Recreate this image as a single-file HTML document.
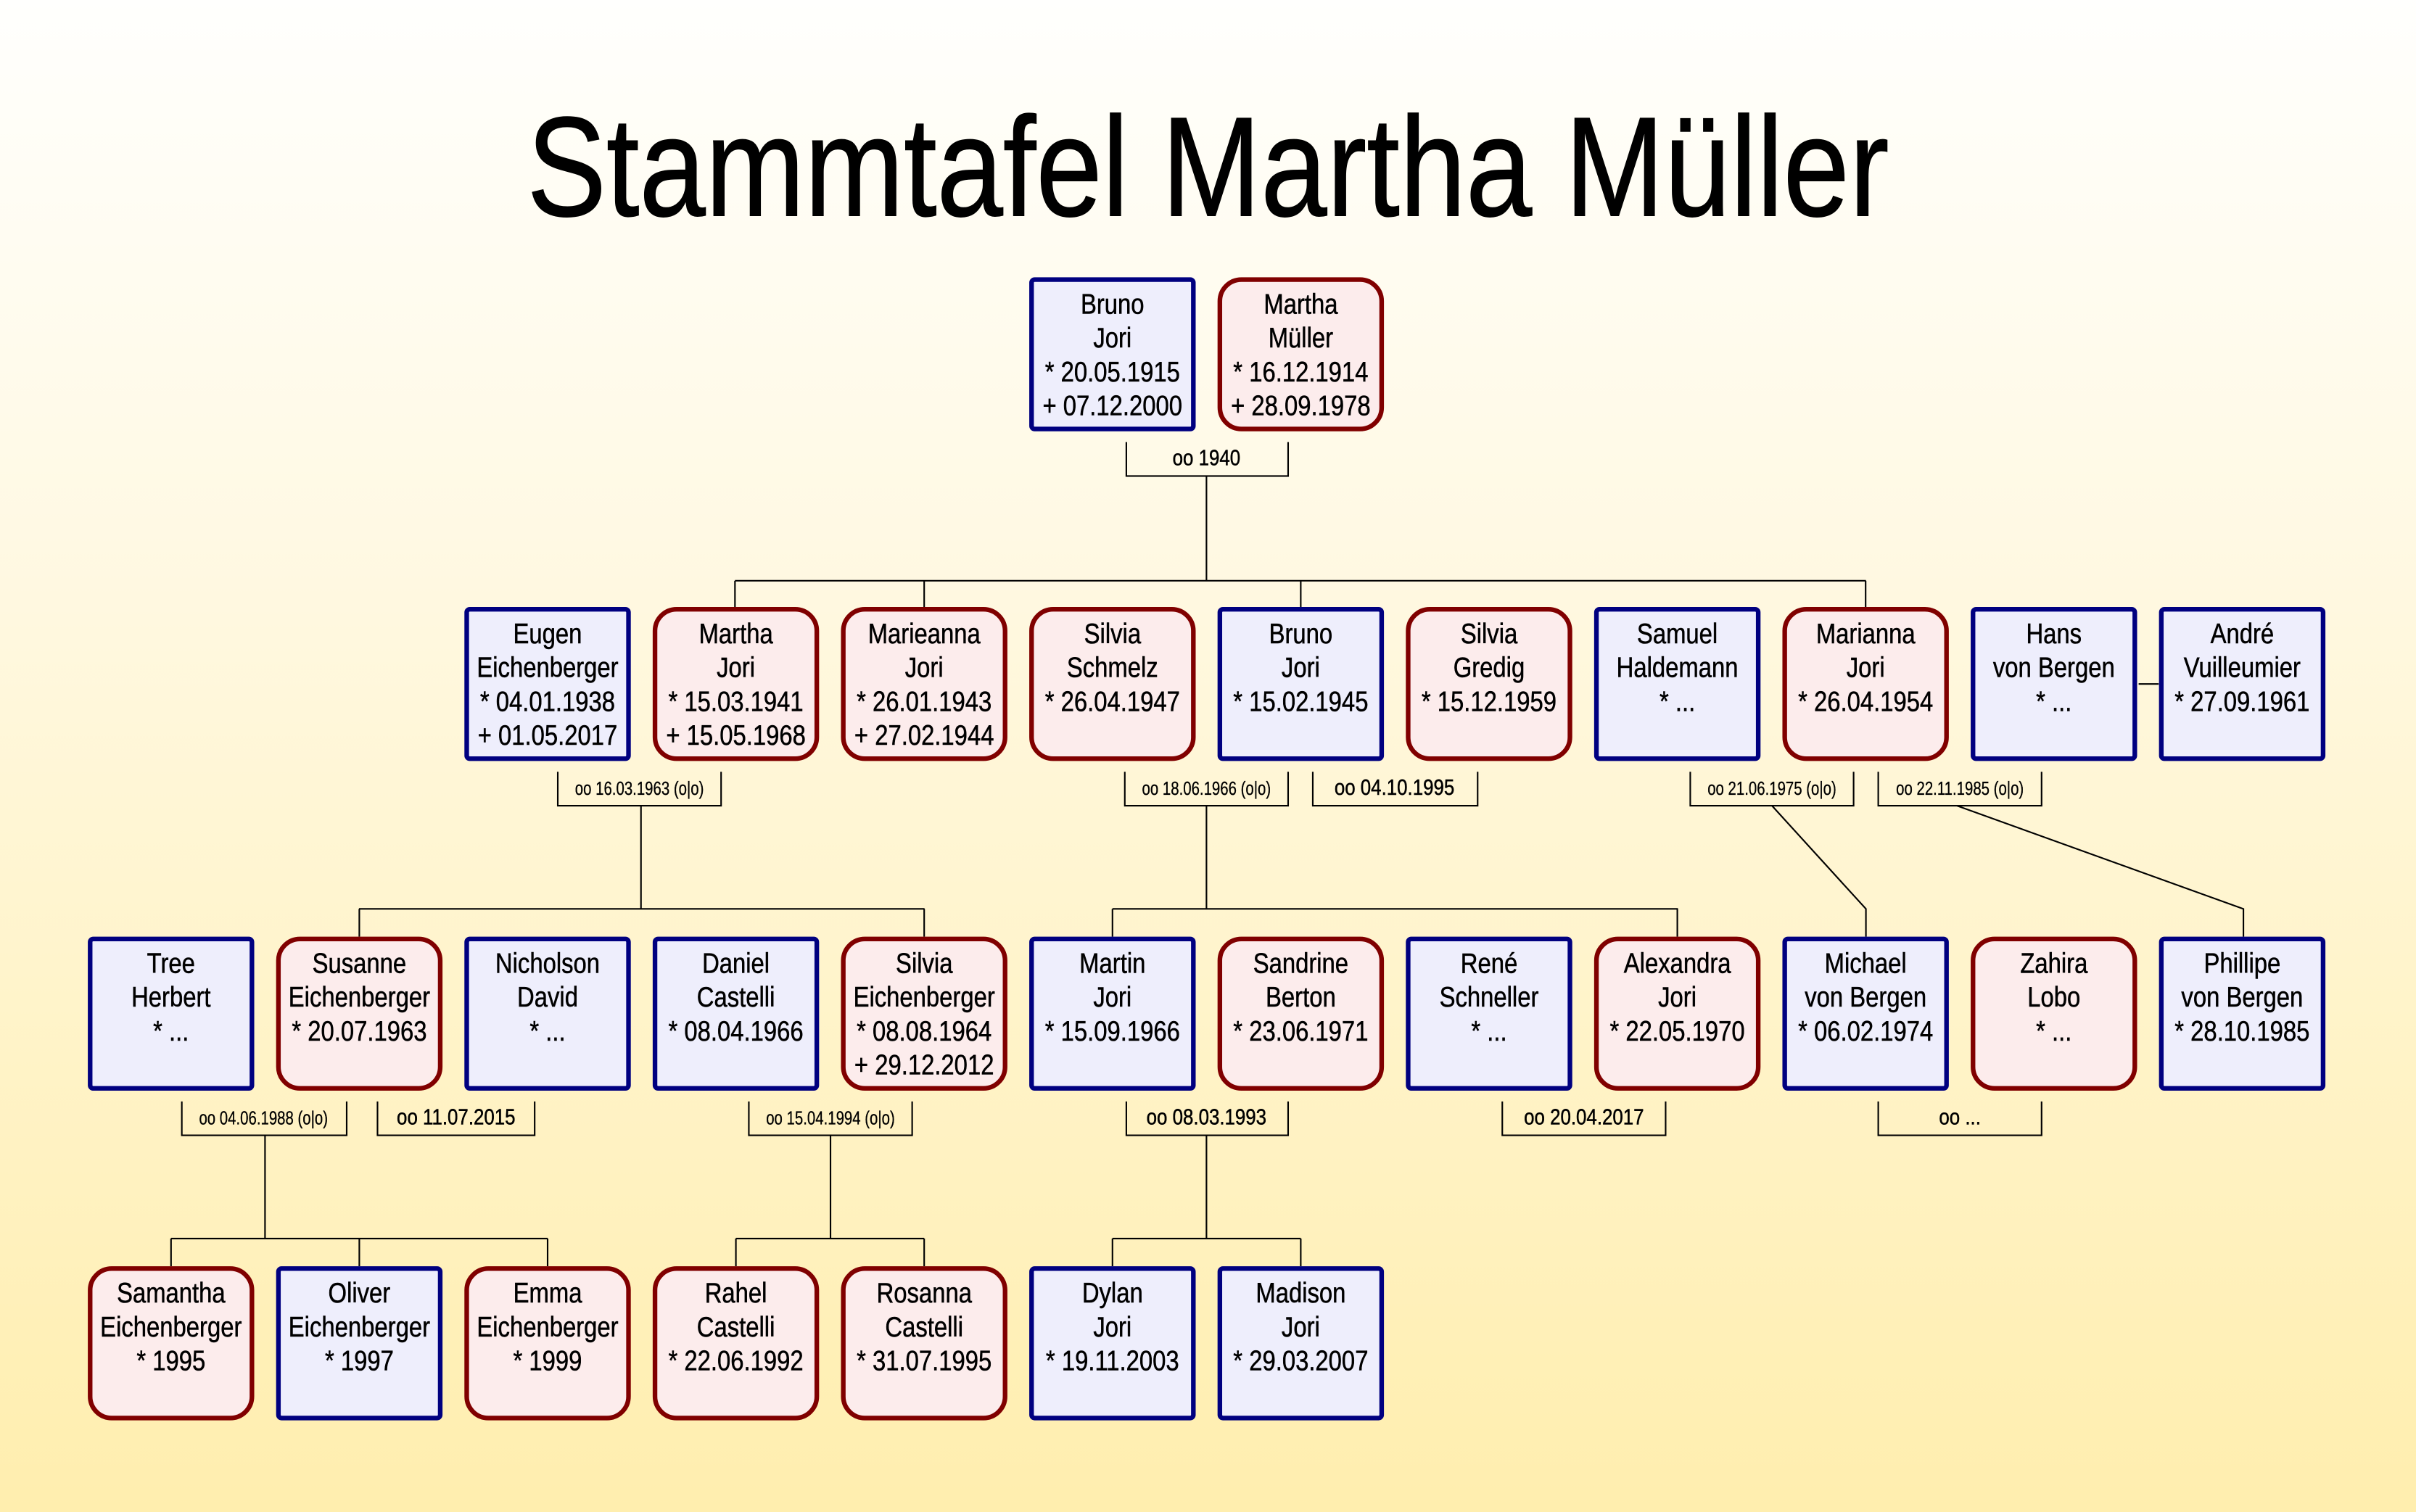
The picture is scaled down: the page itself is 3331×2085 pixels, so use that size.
<!DOCTYPE html>
<html><head><meta charset="utf-8"><style>
html,body{margin:0;padding:0;}
svg{display:block;}
text{font-family:"Liberation Sans Narrow","Liberation Sans",sans-serif;fill:#000;}
.n,.l,.s{text-anchor:middle;transform:scaleX(0.84);transform-box:fill-box;transform-origin:center;stroke:#000;stroke-width:0.25;}
.n{font-size:18.4px;}
.l{font-size:14.5px;}
.s{font-size:12px;stroke-width:0.15;transform:scaleX(0.8);}
.m{fill:#eeeefc;stroke:#000080;stroke-width:3;}
.f{fill:#fcecec;stroke:#800000;stroke-width:3;}
.c{fill:none;stroke:#000;stroke-width:1;}
</style></head><body>
<svg width="3331" height="2085" viewBox="0 0 1568 981.5" preserveAspectRatio="none" xmlns="http://www.w3.org/2000/svg">
<defs><linearGradient id="bg" x1="0" y1="0" x2="0" y2="1">
<stop offset="0" stop-color="#fffffd"/><stop offset="0.35" stop-color="#fff9e4"/><stop offset="1" stop-color="#ffeeae"/></linearGradient></defs>
<rect x="0" y="0" width="1568" height="981.5" fill="url(#bg)"/>
<text x="342" y="140" font-size="92" textLength="884" lengthAdjust="spacingAndGlyphs" stroke="#000" stroke-width="0.6">Stammtafel Martha Müller</text>

<g class="c">
<path d="M731 287V309H836V287"/>
<path d="M783 309V377M477 377H1211M477 377V394M599.8 377V394M844.2 377V394M1210.8 377V394"/>
<path d="M1388 444H1401"/>
<path d="M362 501V523H468V501"/><path d="M416 523V590M233 590H600M233.2 590V608M599.8 590V608"/>
<path d="M730 501V523H836V501"/><path d="M783 523V590M722 590H1089M722 590V608M1088.6 590V608"/>
<path d="M852 501V523H959V501"/>
<path d="M1097 501V523H1203V501"/><path d="M1150 523L1211 590V608"/>
<path d="M1219 501V523H1325V501"/><path d="M1270 523L1456 590V608"/>
<path d="M118 715V737H225V715"/><path d="M172 737V804M111 804H355.4M111 804V822M233.2 804V822M355.4 804V822"/>
<path d="M245 715V737H347V715"/>
<path d="M486 715V737H592V715"/><path d="M539 737V804M477.6 804H599.8M477.6 804V822M599.8 804V822"/>
<path d="M731 715V737H836V715"/><path d="M783 737V804M722 804H844.2M722 804V822M844.2 804V822"/>
<path d="M975 715V737H1081V715"/>
<path d="M1219 715V737H1325V715"/>
</g>
<text class="l" x="783" y="302">oo 1940</text>
<text class="s" x="415" y="516">oo 16.03.1963 (o|o)</text>
<text class="s" x="783" y="516">oo 18.06.1966 (o|o)</text>
<text class="l" x="905" y="516">oo 04.10.1995</text>
<text class="s" x="1150" y="516">oo 21.06.1975 (o|o)</text>
<text class="s" x="1272" y="516">oo 22.11.1985 (o|o)</text>
<text class="s" x="171" y="730">oo 04.06.1988 (o|o)</text>
<text class="l" x="296" y="730">oo 11.07.2015</text>
<text class="s" x="539" y="730">oo 15.04.1994 (o|o)</text>
<text class="l" x="783" y="730">oo 08.03.1993</text>
<text class="l" x="1028" y="730">oo 20.04.2017</text>
<text class="l" x="1272" y="730">oo ...</text>

<rect class="m" x="669.5" y="181.5" width="105" height="97" rx="2"/>
<text class="n" x="722" y="203.5">Bruno</text><text class="n" x="722" y="225.5">Jori</text><text class="n" x="722" y="247.5">* 20.05.1915</text><text class="n" x="722" y="269.5">+ 07.12.2000</text>
<rect class="f" x="791.7" y="181.5" width="105" height="97" rx="14"/>
<text class="n" x="844.2" y="203.5">Martha</text><text class="n" x="844.2" y="225.5">Müller</text><text class="n" x="844.2" y="247.5">* 16.12.1914</text><text class="n" x="844.2" y="269.5">+ 28.09.1978</text>

<rect class="m" x="302.9" y="395.5" width="105" height="97" rx="2"/>
<text class="n" x="355.4" y="417.5">Eugen</text><text class="n" x="355.4" y="439.5">Eichenberger</text><text class="n" x="355.4" y="461.5">* 04.01.1938</text><text class="n" x="355.4" y="483.5">+ 01.05.2017</text>
<rect class="f" x="425.1" y="395.5" width="105" height="97" rx="14"/>
<text class="n" x="477.6" y="417.5">Martha</text><text class="n" x="477.6" y="439.5">Jori</text><text class="n" x="477.6" y="461.5">* 15.03.1941</text><text class="n" x="477.6" y="483.5">+ 15.05.1968</text>
<rect class="f" x="547.3" y="395.5" width="105" height="97" rx="14"/>
<text class="n" x="599.8" y="417.5">Marieanna</text><text class="n" x="599.8" y="439.5">Jori</text><text class="n" x="599.8" y="461.5">* 26.01.1943</text><text class="n" x="599.8" y="483.5">+ 27.02.1944</text>
<rect class="f" x="669.5" y="395.5" width="105" height="97" rx="14"/>
<text class="n" x="722" y="417.5">Silvia</text><text class="n" x="722" y="439.5">Schmelz</text><text class="n" x="722" y="461.5">* 26.04.1947</text>
<rect class="m" x="791.7" y="395.5" width="105" height="97" rx="2"/>
<text class="n" x="844.2" y="417.5">Bruno</text><text class="n" x="844.2" y="439.5">Jori</text><text class="n" x="844.2" y="461.5">* 15.02.1945</text>
<rect class="f" x="913.9" y="395.5" width="105" height="97" rx="14"/>
<text class="n" x="966.4" y="417.5">Silvia</text><text class="n" x="966.4" y="439.5">Gredig</text><text class="n" x="966.4" y="461.5">* 15.12.1959</text>
<rect class="m" x="1036.1" y="395.5" width="105" height="97" rx="2"/>
<text class="n" x="1088.6" y="417.5">Samuel</text><text class="n" x="1088.6" y="439.5">Haldemann</text><text class="n" x="1088.6" y="461.5">* ...</text>
<rect class="f" x="1158.3" y="395.5" width="105" height="97" rx="14"/>
<text class="n" x="1210.8" y="417.5">Marianna</text><text class="n" x="1210.8" y="439.5">Jori</text><text class="n" x="1210.8" y="461.5">* 26.04.1954</text>
<rect class="m" x="1280.5" y="395.5" width="105" height="97" rx="2"/>
<text class="n" x="1333" y="417.5">Hans</text><text class="n" x="1333" y="439.5">von Bergen</text><text class="n" x="1333" y="461.5">* ...</text>
<rect class="m" x="1402.7" y="395.5" width="105" height="97" rx="2"/>
<text class="n" x="1455.2" y="417.5">André</text><text class="n" x="1455.2" y="439.5">Vuilleumier</text><text class="n" x="1455.2" y="461.5">* 27.09.1961</text>

<rect class="m" x="58.5" y="609.5" width="105" height="97" rx="2"/>
<text class="n" x="111" y="631.5">Tree</text><text class="n" x="111" y="653.5">Herbert</text><text class="n" x="111" y="675.5">* ...</text>
<rect class="f" x="180.7" y="609.5" width="105" height="97" rx="14"/>
<text class="n" x="233.2" y="631.5">Susanne</text><text class="n" x="233.2" y="653.5">Eichenberger</text><text class="n" x="233.2" y="675.5">* 20.07.1963</text>
<rect class="m" x="302.9" y="609.5" width="105" height="97" rx="2"/>
<text class="n" x="355.4" y="631.5">Nicholson</text><text class="n" x="355.4" y="653.5">David</text><text class="n" x="355.4" y="675.5">* ...</text>
<rect class="m" x="425.1" y="609.5" width="105" height="97" rx="2"/>
<text class="n" x="477.6" y="631.5">Daniel</text><text class="n" x="477.6" y="653.5">Castelli</text><text class="n" x="477.6" y="675.5">* 08.04.1966</text>
<rect class="f" x="547.3" y="609.5" width="105" height="97" rx="14"/>
<text class="n" x="599.8" y="631.5">Silvia</text><text class="n" x="599.8" y="653.5">Eichenberger</text><text class="n" x="599.8" y="675.5">* 08.08.1964</text><text class="n" x="599.8" y="697.5">+ 29.12.2012</text>
<rect class="m" x="669.5" y="609.5" width="105" height="97" rx="2"/>
<text class="n" x="722" y="631.5">Martin</text><text class="n" x="722" y="653.5">Jori</text><text class="n" x="722" y="675.5">* 15.09.1966</text>
<rect class="f" x="791.7" y="609.5" width="105" height="97" rx="14"/>
<text class="n" x="844.2" y="631.5">Sandrine</text><text class="n" x="844.2" y="653.5">Berton</text><text class="n" x="844.2" y="675.5">* 23.06.1971</text>
<rect class="m" x="913.9" y="609.5" width="105" height="97" rx="2"/>
<text class="n" x="966.4" y="631.5">René</text><text class="n" x="966.4" y="653.5">Schneller</text><text class="n" x="966.4" y="675.5">* ...</text>
<rect class="f" x="1036.1" y="609.5" width="105" height="97" rx="14"/>
<text class="n" x="1088.6" y="631.5">Alexandra</text><text class="n" x="1088.6" y="653.5">Jori</text><text class="n" x="1088.6" y="675.5">* 22.05.1970</text>
<rect class="m" x="1158.3" y="609.5" width="105" height="97" rx="2"/>
<text class="n" x="1210.8" y="631.5">Michael</text><text class="n" x="1210.8" y="653.5">von Bergen</text><text class="n" x="1210.8" y="675.5">* 06.02.1974</text>
<rect class="f" x="1280.5" y="609.5" width="105" height="97" rx="14"/>
<text class="n" x="1333" y="631.5">Zahira</text><text class="n" x="1333" y="653.5">Lobo</text><text class="n" x="1333" y="675.5">* ...</text>
<rect class="m" x="1402.7" y="609.5" width="105" height="97" rx="2"/>
<text class="n" x="1455.2" y="631.5">Phillipe</text><text class="n" x="1455.2" y="653.5">von Bergen</text><text class="n" x="1455.2" y="675.5">* 28.10.1985</text>

<rect class="f" x="58.5" y="823.5" width="105" height="97" rx="14"/>
<text class="n" x="111" y="845.5">Samantha</text><text class="n" x="111" y="867.5">Eichenberger</text><text class="n" x="111" y="889.5">* 1995</text>
<rect class="m" x="180.7" y="823.5" width="105" height="97" rx="2"/>
<text class="n" x="233.2" y="845.5">Oliver</text><text class="n" x="233.2" y="867.5">Eichenberger</text><text class="n" x="233.2" y="889.5">* 1997</text>
<rect class="f" x="302.9" y="823.5" width="105" height="97" rx="14"/>
<text class="n" x="355.4" y="845.5">Emma</text><text class="n" x="355.4" y="867.5">Eichenberger</text><text class="n" x="355.4" y="889.5">* 1999</text>
<rect class="f" x="425.1" y="823.5" width="105" height="97" rx="14"/>
<text class="n" x="477.6" y="845.5">Rahel</text><text class="n" x="477.6" y="867.5">Castelli</text><text class="n" x="477.6" y="889.5">* 22.06.1992</text>
<rect class="f" x="547.3" y="823.5" width="105" height="97" rx="14"/>
<text class="n" x="599.8" y="845.5">Rosanna</text><text class="n" x="599.8" y="867.5">Castelli</text><text class="n" x="599.8" y="889.5">* 31.07.1995</text>
<rect class="m" x="669.5" y="823.5" width="105" height="97" rx="2"/>
<text class="n" x="722" y="845.5">Dylan</text><text class="n" x="722" y="867.5">Jori</text><text class="n" x="722" y="889.5">* 19.11.2003</text>
<rect class="m" x="791.7" y="823.5" width="105" height="97" rx="2"/>
<text class="n" x="844.2" y="845.5">Madison</text><text class="n" x="844.2" y="867.5">Jori</text><text class="n" x="844.2" y="889.5">* 29.03.2007</text>
</svg>
</body></html>
